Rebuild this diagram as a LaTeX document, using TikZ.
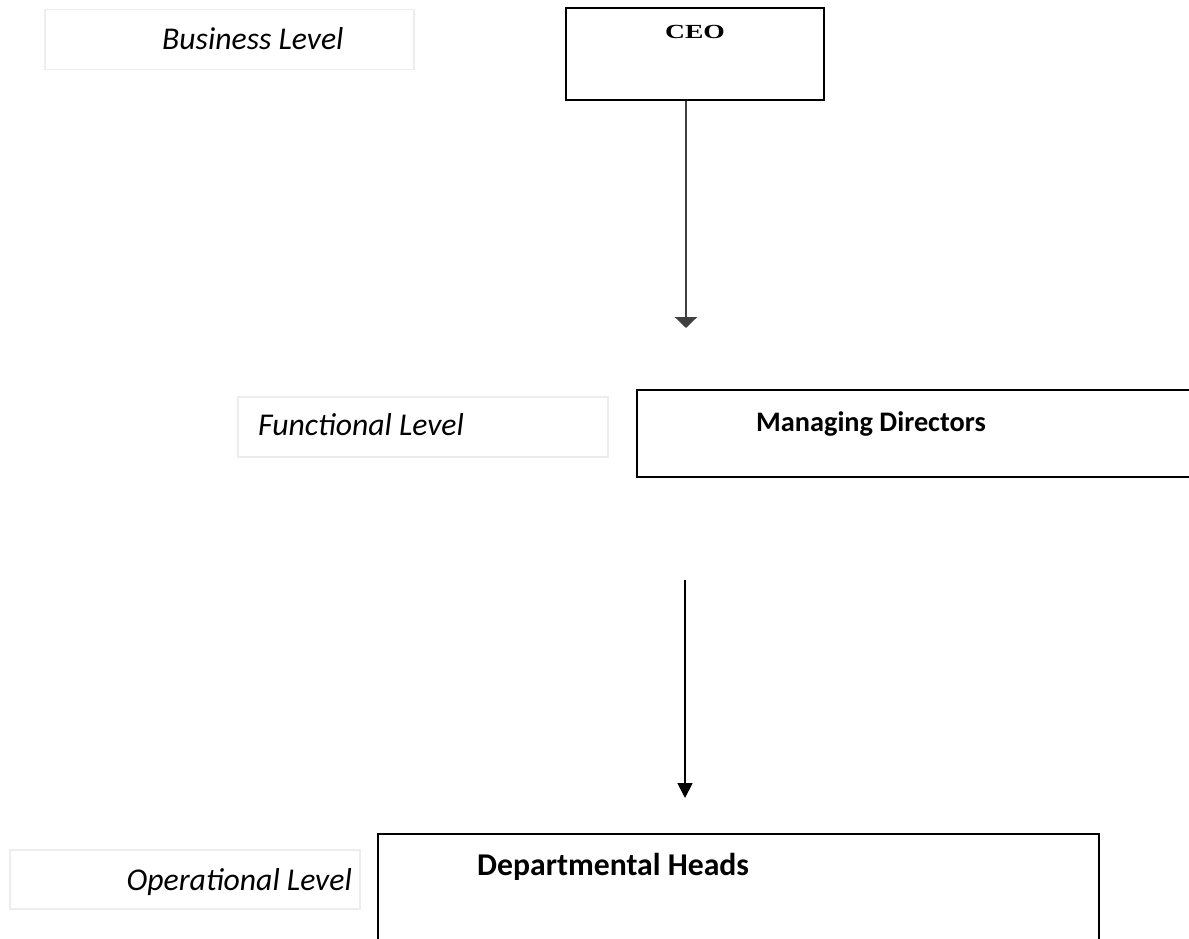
\documentclass[tikz,border=0pt]{standalone}
\usepackage{fontspec}
\setmainfont{Carlito}
\newfontfamily\ceoface{Liberation Serif}
\usetikzlibrary{arrows.meta}
\tikzset{
  levelbox/.style={draw=black!7, line width=1.5pt, inner sep=0pt, anchor=north west},
  rankbox/.style={draw=black, line width=1.6pt, inner sep=0pt, anchor=north west},
  leveltext/.style={inner sep=0pt, font=\fontsize{31.7}{38}\selectfont\itshape},
  ranktext/.style={inner sep=0pt, font=\fontsize{28.3}{34}\selectfont\bfseries},
  link/.style={line width=1.8pt}
}
\begin{document}
\begin{tikzpicture}[x=1pt,y=-1pt]
\useasboundingbox (0,0) rectangle (1189,939);
\clip (0,0) rectangle (1189,939);

% level captions
\node[levelbox, minimum width=369pt, minimum height=60pt] (bizbox) at (44,9) {};
\node[leveltext, anchor=base west] (biz) at (162,50) {Business Level};
\node[levelbox, minimum width=370pt, minimum height=60pt] (funbox) at (237,396) {};
\node[leveltext, anchor=base west] (fun) at (258,435) {Functional Level};
\node[levelbox, minimum width=350pt, minimum height=59pt] (opbox) at (9,849) {};
\node[leveltext, anchor=base east] (op) at (352,890) {Operational Level};

% ranks
\node[rankbox, line width=2pt, minimum width=258pt, minimum height=92pt] (ceo) at (565,7) {};
\node[inner sep=0pt, anchor=base, font=\fontsize{20}{24}\selectfont\ceoface\bfseries] (ceotxt) at (695,39) {\scalebox{1.38}[1]{CEO}};
\node[rankbox, minimum width=560pt, minimum height=87pt] (md) at (636,389) {};
\node[ranktext, anchor=base] (mdtxt) at (871,431) {Managing Directors};
\node[rankbox, minimum width=721pt, minimum height=120pt] (dh) at (377,833) {};
\node[ranktext, font=\fontsize{31.7}{38}\selectfont\bfseries, anchor=base west] (dhtxt) at (477,875) {Departmental Heads};

% connectors
\coordinate (a1) at (686,328);
\coordinate (a2s) at (685,580);
\coordinate (a2) at (685,798);
\draw[link, draw=black!75, line width=2.6pt, -{Triangle[width=22pt,length=11pt]}] (ceo.south -| a1) -- (a1);
\draw[link, -{Triangle[width=15pt,length=15pt]}] (a2s) -- (a2);
\end{tikzpicture}
\end{document}
